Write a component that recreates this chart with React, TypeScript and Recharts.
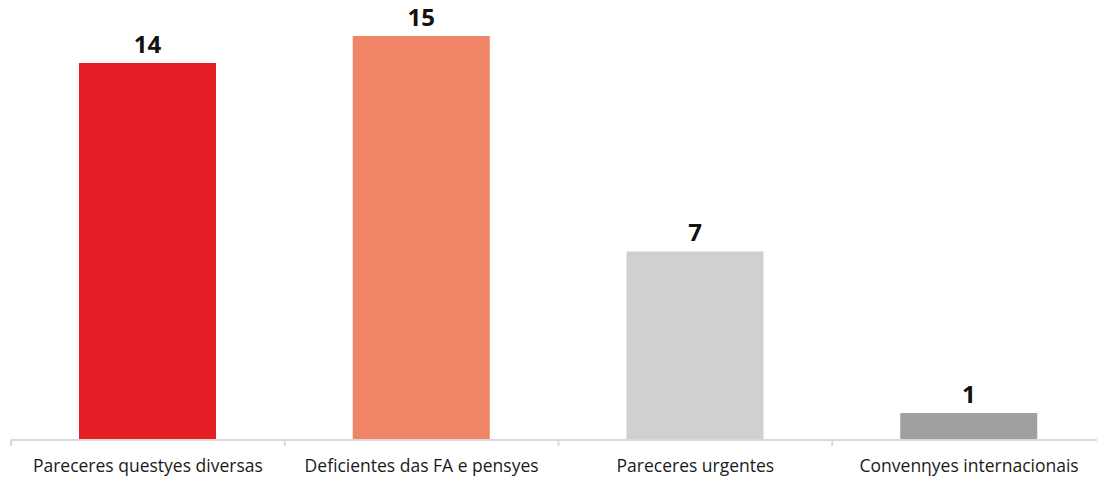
import * as React from "react"
import { BarChart, Bar, XAxis, YAxis, Cell, LabelList } from "recharts"

const categories = [
  "Pareceres questyes diversas",
  "Deficientes das FA e pensyes",
  "Pareceres urgentes",
  "Convenηyes internacionais",
]
const values = [14, 15, 7, 1]
const colors = ["#E31E24", "#F08467", "#D0D0D0", "#A0A0A0"]

const data = categories.map((name, i) => ({ name, value: values[i] }))

const font = "'Open Sans', 'Liberation Sans', sans-serif"
const chartWidth = 1106
const margin = { top: 36, right: 0, left: 11, bottom: 0 }
const band = (chartWidth - margin.left - margin.right) / categories.length

function CategoryTick(props: any) {
  const { x, y, payload, index } = props
  const half = band / 2
  return (
    <g>
      <line x1={x - half} x2={x - half} y1={y} y2={y + 6} stroke="#D9D9D9" strokeWidth={2} />
      {index === categories.length - 1 && (
        <line x1={x + half} x2={x + half} y1={y} y2={y + 6} stroke="#D9D9D9" strokeWidth={2} />
      )}
      <text x={x} y={y + 32} textAnchor="middle" fill="#1a1a1a" fontSize={17.5} fontFamily={font}>
        {payload.value}
      </text>
    </g>
  )
}

export default function App() {
  return (
    <div style={{ position: "absolute", left: 0, top: 0, width: 1097, height: 480, overflow: "hidden", background: "#fff" }}>
      <BarChart width={chartWidth} height={480} data={data} margin={margin}>
        <XAxis
          dataKey="name"
          height={40}
          tickLine={false}
          tickSize={0}
          tickMargin={0}
          axisLine={{ stroke: "#D9D9D9", strokeWidth: 2 }}
          interval={0}
          tick={<CategoryTick />}
        />
        <YAxis hide domain={[0, 15]} />
        <Bar dataKey="value" barSize={137} isAnimationActive={false}>
          {data.map((d, i) => (
            <Cell key={d.name} fill={colors[i]} />
          ))}
          <LabelList
            dataKey="value"
            position="top"
            offset={10}
            style={{ fill: "#111", fontSize: 24, fontWeight: "bold", fontFamily: font }}
          />
        </Bar>
      </BarChart>
    </div>
  )
}
